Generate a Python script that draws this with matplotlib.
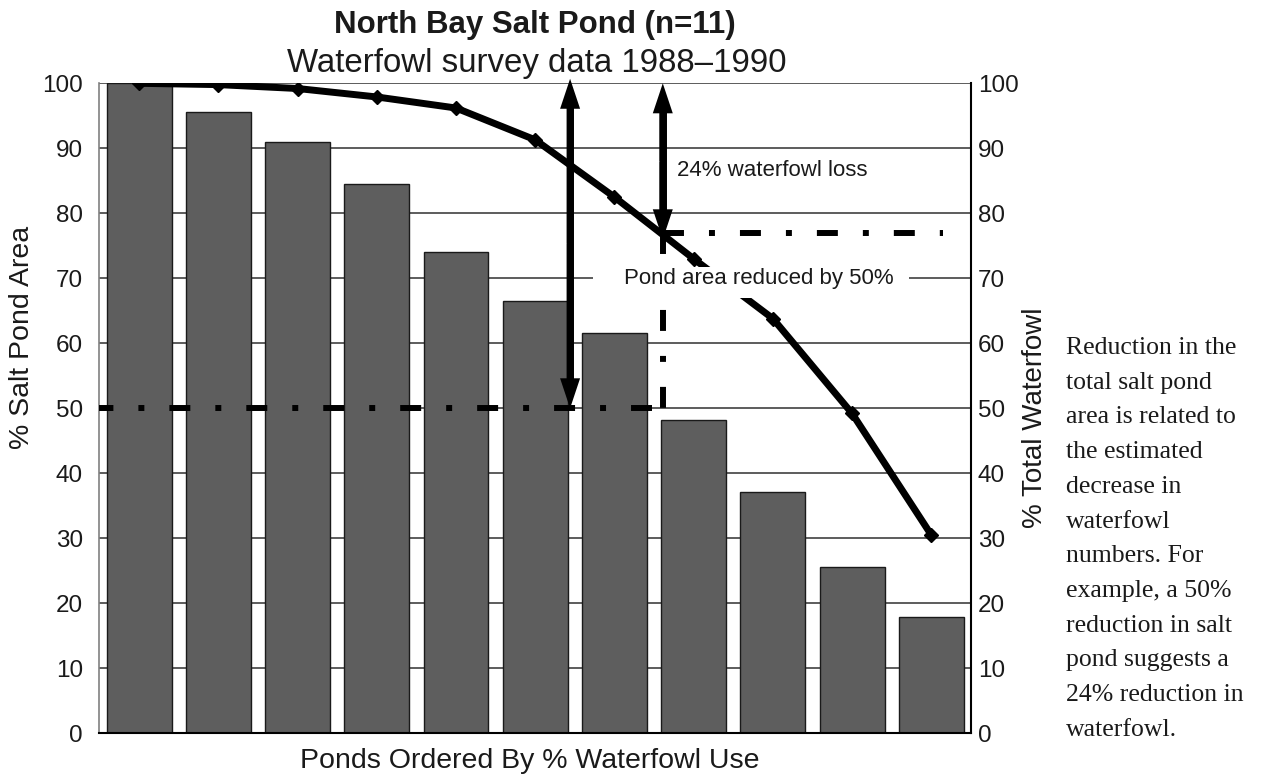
import matplotlib
matplotlib.use("Agg")
import matplotlib.pyplot as plt
from matplotlib.patches import Rectangle
import numpy as np

plt.rcParams['font.family'] = ['Liberation Sans', 'DejaVu Sans']
plt.rcParams['lines.scale_dashes'] = False

# ponds ranked by share of waterfowl use
pond_area = [100, 95.6, 91.0, 84.5, 74.0, 66.5, 61.6, 48.2, 37.1, 25.6, 17.9]
waterfowl = [100, 99.8, 99.2, 97.9, 96.2, 91.3, 82.5, 73.0, 63.8, 49.2, 30.5]
yticks = [0, 10, 20, 30, 40, 50, 60, 70, 80, 90, 100]

area_cut = 50        # half the pond area
fowl_loss = 24       # matching loss in waterfowl
fowl_level = 77      # where the curve crosses the cut
area_arrow_x = 5.44
fowl_arrow_x = 6.61

note_lines = ["Reduction in the", "total salt pond", "area is related to",
              "the estimated", "decrease in", "waterfowl", "numbers. For",
              "example, a 50%", "reduction in salt", "pond suggests a",
              "24% reduction in", "waterfowl."]

fig = plt.figure(figsize=(12.61, 7.83), dpi=100)
ax = fig.add_axes([0.0789, 0.0635, 0.6911, 0.8301])
x = np.arange(len(pond_area))

for v in yticks[1:]:
    ax.axhline(v, color='#303030', lw=1.1, zorder=0.5)
ax.bar(x, pond_area, width=0.82, color='#5e5e5e', edgecolor='#1a1a1a',
       lw=1.0, zorder=2)
ax.plot(x, waterfowl, color='black', lw=5, marker='D', ms=7,
        solid_joinstyle='round', zorder=3)

# dash-dot guide lines
dashdot = (0, (15.1, 18, 4.3, 18))
ax.plot([6.48, -0.5], [area_cut, area_cut], color='black', lw=4.3, ls=dashdot, zorder=3)
ax.plot([fowl_arrow_x, fowl_arrow_x], [fowl_level, area_cut], color='black', lw=4.3,
        ls=dashdot, zorder=3)
ax.plot([fowl_arrow_x, 10.15], [fowl_level, fowl_level], color='black', lw=4.3,
        ls=dashdot, zorder=3)


def double_arrow(xpos, top, bottom):
    mid = (top + bottom) / 2
    ax.plot([xpos, xpos], [bottom + 3, top - 3], color='black', lw=5,
            solid_capstyle='butt', zorder=4)
    for end in (top, bottom):
        ax.annotate('', xy=(xpos, end), xytext=(xpos, mid), annotation_clip=False,
                    arrowprops=dict(arrowstyle='simple,head_length=1.5,head_width=1.0,tail_width=0.35',
                                    mutation_scale=14.4, fc='black', ec='none', lw=0,
                                    shrinkA=0, shrinkB=0),
                    zorder=4)


double_arrow(area_arrow_x, 100.7, area_cut)
double_arrow(fowl_arrow_x, 100, 100 - fowl_loss)

ax.text(6.79, 86.6, f"{fowl_loss}% waterfowl loss", fontsize=16,
        va='center', ha='left', color='#1a1a1a', zorder=6)
ax.add_patch(Rectangle((5.73, 66.9), 3.99, 4.9, facecolor='white',
                       edgecolor='none', zorder=5))
ax.text(7.82, 69.9, f"Pond area reduced by {area_cut}%", fontsize=16,
        va='center', ha='center', color='#1a1a1a', zorder=6)

ax.set_xlim(-0.5, 10.5)
ax.set_ylim(0, 100)
ax.set_xticks([])
ax.set_yticks(yticks)
ax.tick_params(axis='y', length=0, pad=12, labelsize=17.5, labelcolor='#1a1a1a')
for side in ('top', 'right'):
    ax.spines[side].set_visible(False)
ax.spines['left'].set_color('#808080')
ax.spines['left'].set_linewidth(1.2)
ax.spines['bottom'].set_color('black')
ax.spines['bottom'].set_linewidth(1.5)

ax2 = ax.twinx()
ax2.set_ylim(0, 100)
ax2.set_yticks(yticks)
ax2.tick_params(axis='y', length=0, pad=5, labelsize=17.5, labelcolor='#1a1a1a')
for side in ('top', 'left', 'bottom'):
    ax2.spines[side].set_visible(False)
ax2.spines['right'].set_color('black')
ax2.spines['right'].set_linewidth(1.5)

W, H = 1261, 783
fig.text(535 / W, 1 - 33 / H, "North Bay Salt Pond (n=11)", fontsize=22.5,
         fontweight='bold', ha='center', va='baseline', color='#1a1a1a')
fig.text(537 / W, 1 - 72 / H, "Waterfowl survey data 1988\u20131990", fontsize=23.8,
         ha='center', va='baseline', color='#1a1a1a')
fig.text(530 / W, 1 - 768 / H, "Ponds Ordered By % Waterfowl Use", fontsize=20.5,
         ha='center', va='baseline', color='#1a1a1a')
fig.text(22 / W, 1 - 337 / H, "% Salt Pond Area", fontsize=20.5, rotation=90,
         ha='center', va='center', color='#1a1a1a')
fig.text(1035 / W, 1 - 418 / H, "% Total Waterfowl", fontsize=20, rotation=90,
         ha='center', va='center', color='#1a1a1a')

for i, line in enumerate(note_lines):
    fig.text(1066 / W, 1 - (354 + i * 34.7) / H, line, fontsize=18.5,
             family=['Liberation Serif', 'DejaVu Serif'], ha='left',
             va='baseline', color='#1a1a1a')

fig.savefig('out.png', dpi=100)
